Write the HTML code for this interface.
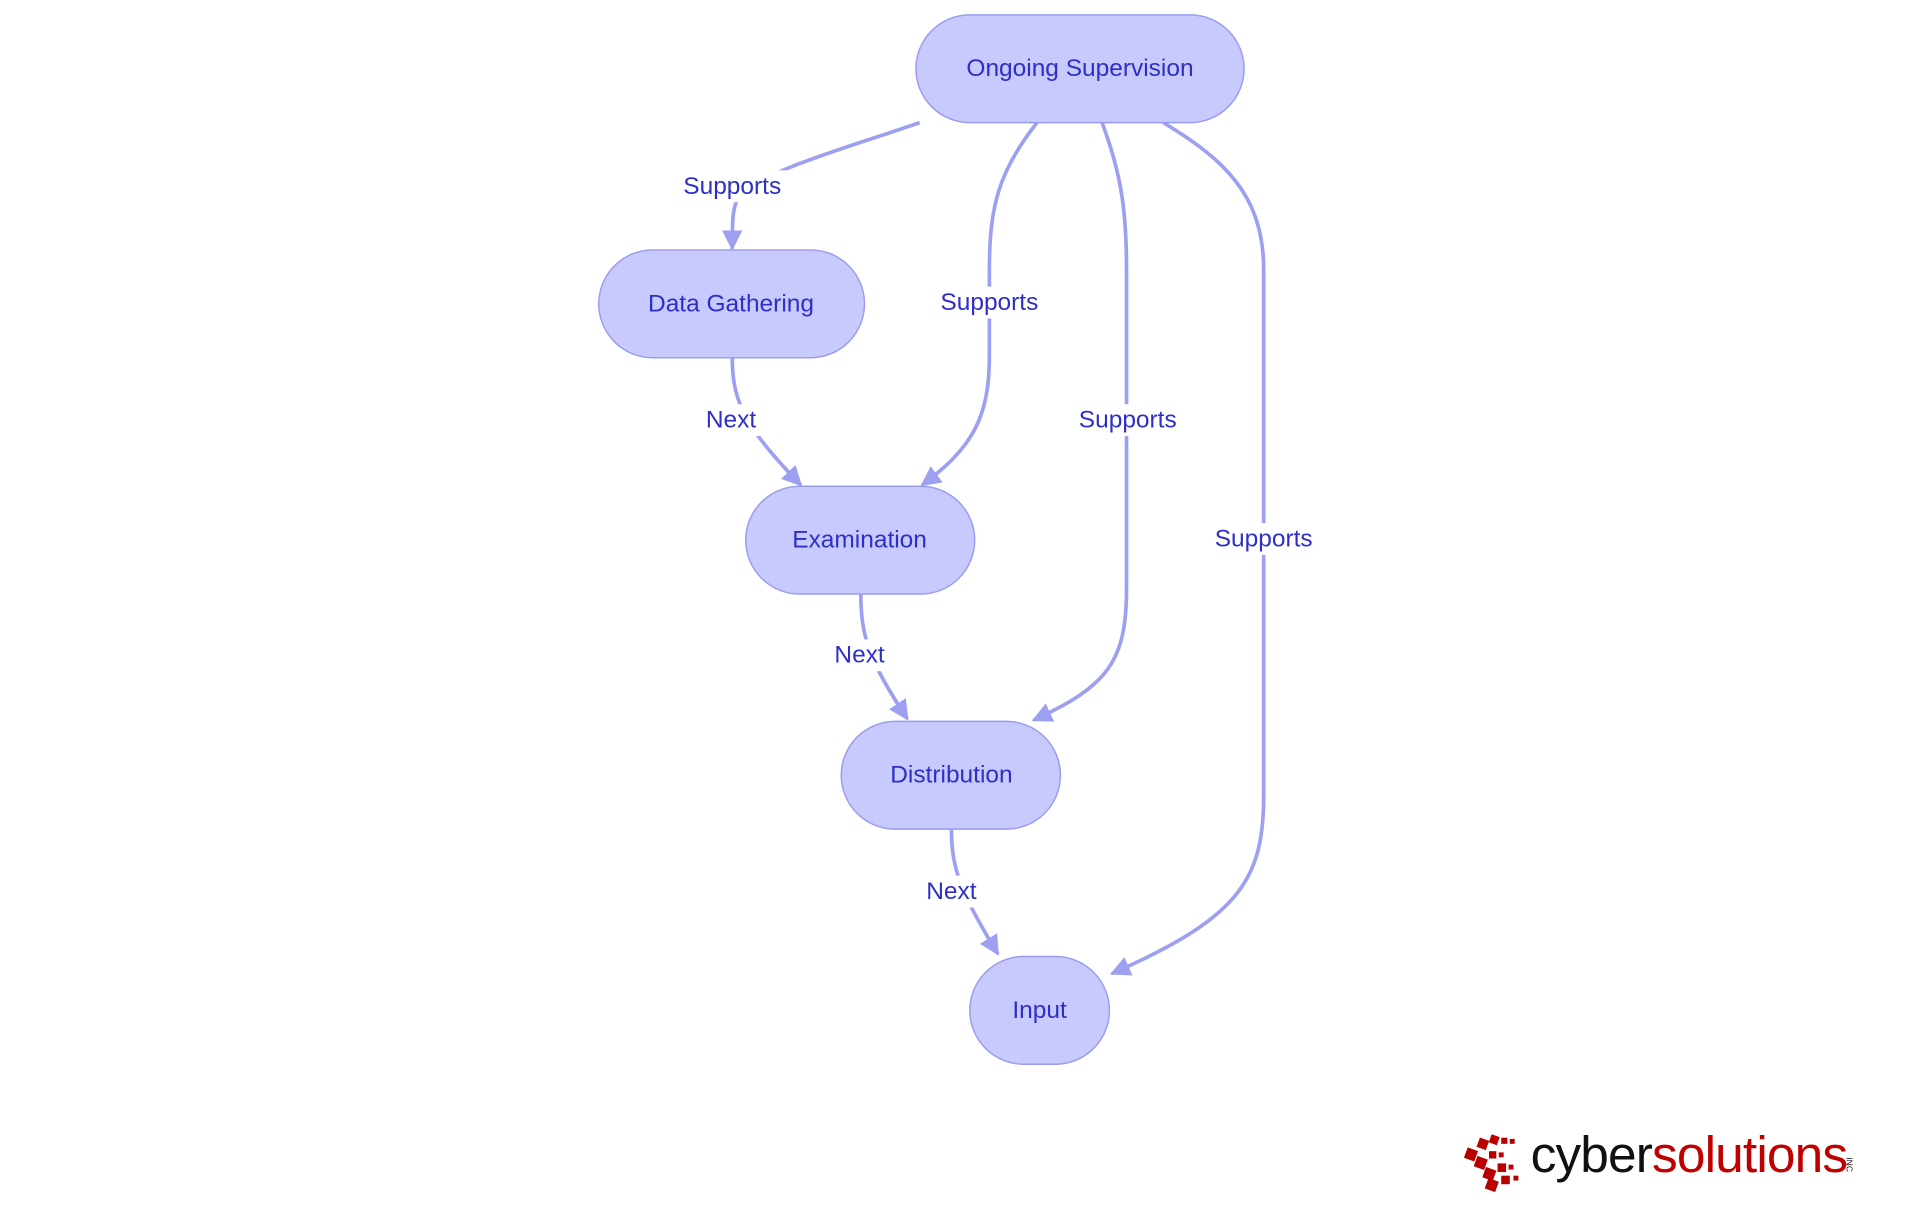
<!DOCTYPE html>
<html><head><meta charset="utf-8"><style>
html,body{margin:0;padding:0;background:#fff;}
svg{display:block;}
text{font-family:"Liberation Sans",sans-serif;}
</style></head><body>
<svg width="1920" height="1215" viewBox="0 0 1568 992" xmlns="http://www.w3.org/2000/svg">
<defs>
<marker id="a" viewBox="0 0 10 10" refX="9" refY="5" markerWidth="5.5" markerHeight="5.5" orient="auto" markerUnits="strokeWidth">
<path d="M0,0 L10,5 L0,10 z" fill="#9da0f0"/></marker>
</defs>
<g fill="none" stroke="#9da0f0" stroke-width="3" marker-end="url(#a)">
<path d="M751,100 C700,118 620,140 604,160 C598,168 598,180 598,203"/>
<path d="M847,100 C815,140 808,170 808,220 L808,290 C808,340 795,365 753,396"/>
<path d="M900,100 C915,140 920,170 920,220 L920,480 C920,540 905,560 844,588"/>
<path d="M950,100 C1000,130 1032,160 1032,220 L1032,650 C1032,720 1010,750 908,795"/>
<path d="M598,292 C598,330 610,350 654,396"/>
<path d="M703,485 C703,520 710,540 741,587"/>
<path d="M777,677 C777,710 785,730 815,779"/>
</g>
<g fill="#c8c9fc" stroke="#9a9cf0" stroke-width="1.2">
<rect x="748" y="12" width="268" height="88" rx="44"/>
<rect x="489" y="204" width="217" height="88" rx="44"/>
<rect x="609" y="397" width="187" height="88" rx="44"/>
<rect x="687" y="589" width="179" height="88" rx="44"/>
<rect x="792" y="781" width="114" height="88" rx="44"/>
</g>
<g font-size="20" fill="#2e2fc8" text-anchor="middle" dominant-baseline="central">
<text x="882" y="56">Ongoing Supervision</text>
<text x="597" y="248">Data Gathering</text>
<text x="702" y="441">Examination</text>
<text x="777" y="633">Distribution</text>
<text x="849" y="825">Input</text>
</g>
<g fill="#fff">
<rect x="551" y="139" width="94" height="26"/>
<rect x="761" y="234" width="94" height="26"/>
<rect x="874" y="330" width="94" height="26"/>
<rect x="985" y="427" width="94" height="26"/>
<rect x="572" y="330" width="50" height="26"/>
<rect x="677" y="522" width="50" height="26"/>
<rect x="752" y="715" width="50" height="26"/>
</g>
<g font-size="20" fill="#2e2fc8" text-anchor="middle" dominant-baseline="central">
<text x="598" y="152">Supports</text>
<text x="808" y="247">Supports</text>
<text x="921" y="343">Supports</text>
<text x="1032" y="440">Supports</text>
<text x="597" y="343">Next</text>
<text x="702" y="535">Next</text>
<text x="777" y="728">Next</text>
</g>
<g fill="#b80000">
<rect x="1197" y="938" width="9" height="9" transform="rotate(20 1201 942)"/>
<rect x="1207" y="930" width="8" height="8" transform="rotate(20 1211 934)"/>
<rect x="1217" y="927" width="7" height="7" transform="rotate(20 1220 930)"/>
<rect x="1226" y="929" width="5" height="5"/>
<rect x="1233" y="930" width="4" height="4"/>
<rect x="1205" y="945" width="9" height="9" transform="rotate(20 1209 949)"/>
<rect x="1216" y="940" width="6" height="6"/>
<rect x="1224" y="941" width="4" height="4"/>
<rect x="1212" y="954" width="9" height="9" transform="rotate(20 1216 958)"/>
<rect x="1223" y="950" width="7" height="7"/>
<rect x="1232" y="951" width="4" height="4"/>
<rect x="1214" y="963" width="9" height="9" transform="rotate(20 1218 967)"/>
<rect x="1226" y="960" width="7" height="7"/>
<rect x="1236" y="960" width="4" height="4"/>
</g>
<text x="1250" y="957" font-size="42" letter-spacing="-0.7" fill="#111">cyber<tspan fill="#c00000">solutions</tspan></text>
<text x="1508" y="945" font-size="7" fill="#111" transform="rotate(90 1508 945)">INC</text>
</svg>
</body></html>
